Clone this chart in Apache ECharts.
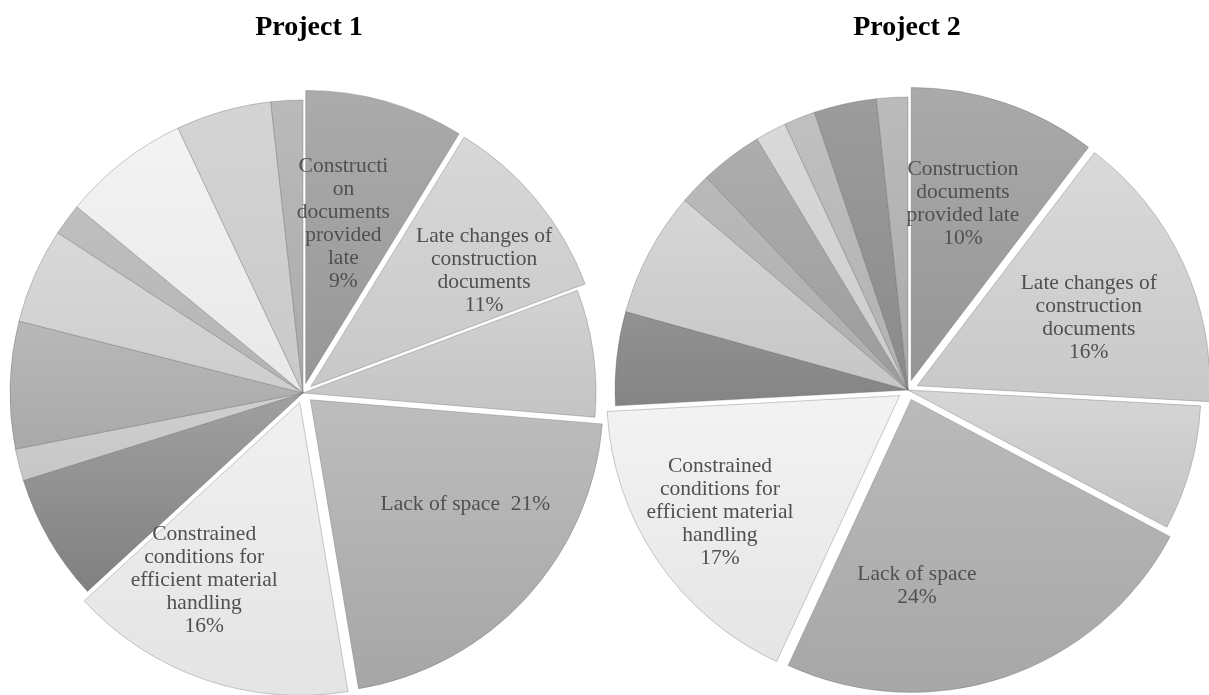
<!DOCTYPE html>
<html>
<head>
<meta charset="utf-8">
<script src="https://cdn.jsdelivr.net/npm/echarts@6/dist/echarts.min.js"></script>
<style>
  html, body { margin: 0; padding: 0; background: #ffffff; }
  #chart { width: 1209px; height: 695px; }
</style>
</head>
<body>
<div id="chart"></div>
<script>
// Causes of delay, counted per project (clockwise from 12 o'clock)
const causes1 = [
  'Constructi\non\ndocuments\nprovided\nlate',
  'Late changes of\nconstruction\ndocuments',
  'Cause 3', 'Lack of space ',
  'Constrained\nconditions for\nefficient material\nhandling',
  'Cause 6', 'Cause 7', 'Cause 8', 'Cause 9', 'Cause 10', 'Cause 11', 'Cause 12', 'Cause 13'
];
const counts1 = [5, 6, 4, 12, 9, 4, 1, 4, 3, 1, 4, 3, 1];

const causes2 = [
  'Construction\ndocuments\nprovided late',
  'Late changes of\nconstruction\ndocuments',
  'Cause 3', 'Lack of space',
  'Constrained\nconditions for\nefficient material\nhandling',
  'Cause 6', 'Cause 7', 'Cause 8', 'Cause 9', 'Cause 10', 'Cause 11', 'Cause 12', 'Cause 13'
];
const counts2 = [6, 9, 4, 14, 10, 3, 4, 1, 2, 1, 1, 2, 1];

const titles = ['Project 1', 'Project 2'];

// Slices that carry a label and are pulled out of the pie
const labelled = [0, 1, 3, 4];

// Separator between name and percentage (single line for "Lack of space" in project 1)
const separators1 = ['\n', '\n', '\n', ' ', '\n'];
const separators2 = ['\n', '\n', '\n', '\n', '\n'];

// Grey fills, top -> bottom of each slice
const shades1 = [
  ['#ababab', '#979797'], ['#d8d8d8', '#c8c8c8'], ['#d2d2d2', '#c4c4c4'], ['#bdbdbd', '#a6a6a6'],
  ['#f0f0f0', '#e4e4e4'], ['#a0a0a0', '#808080'], ['#cfcfcf', '#c7c7c7'], ['#b8b8b8', '#a9a9a9'],
  ['#d9d9d9', '#cdcdcd'], ['#bfbfbf', '#b4b4b4'], ['#f3f3f3', '#e8e8e8'], ['#d4d4d4', '#c9c9c9'],
  ['#bababa', '#aaaaaa']
];
const shades2 = [
  ['#aaaaaa', '#959595'], ['#dadada', '#c8c8c8'], ['#d6d6d6', '#c3c3c3'], ['#bababa', '#a7a7a7'],
  ['#f3f3f3', '#e5e5e5'], ['#929292', '#848484'], ['#d6d6d6', '#c6c6c6'], ['#bababa', '#aeaeae'],
  ['#adadad', '#9c9c9c'], ['#d9d9d9', '#cccccc'], ['#c0c0c0', '#b1b1b1'], ['#9c9c9c', '#8a8a8a'],
  ['#bbbbbb', '#aaaaaa']
];

// Nudges of the label block away from the default inside position
const labelShift1 = { 0: [-3, -16], 1: [58, -21], 3: [45, 3], 4: [-47, 37] };
const labelShift2 = { 0: [4, -35], 1: [36, -5], 3: [-42, 45], 4: [-56, 33] };

const pieRadius = 293;
const centres = [[303, 393], [908, 390]];
const titleX = [304, 902];

function grad(pair) {
  return new echarts.graphic.LinearGradient(0, 0, 0, 1, [
    { offset: 0, color: pair[0] }, { offset: 1, color: pair[1] }
  ]);
}

function buildData(names, counts, shades, seps) {
  const total = counts.reduce((a, b) => a + b, 0);
  return counts.map((v, i) => {
    const style = { color: grad(shades[i]), borderColor: 'rgba(95,95,95,0.55)', borderWidth: 0.6 };
    const isLab = labelled.indexOf(i) >= 0;
    const pct = Math.round(v / total * 100) + '%';
    return {
      name: names[i],
      value: v,
      selected: isLab,
      itemStyle: style,
      select: { itemStyle: style },
      label: isLab
        ? { show: true, formatter: names[i] + seps[i] + pct }
        : { show: false }
    };
  });
}

function pieSeries(k, names, counts, shades, seps, shifts) {
  return {
    type: 'pie',
    center: centres[k],
    radius: pieRadius,
    startAngle: 90,
    clockwise: true,
    selectedMode: 'multiple',
    selectedOffset: 10,
    avoidLabelOverlap: false,
    silent: true,
    label: {
      position: 'inside',
      fontFamily: '"Liberation Serif", "Times New Roman", serif',
      fontSize: 21.5,
      lineHeight: 23,
      color: '#505050',
      align: 'center'
    },
    labelLine: { show: false },
    labelLayout: function (p) {
      const s = shifts[p.dataIndex];
      return s ? { dx: s[0], dy: s[1] } : {};
    },
    emphasis: { disabled: true },
    data: buildData(names, counts, shades, seps)
  };
}

const chart = echarts.init(document.getElementById('chart'), null, { renderer: 'canvas' });
chart.setOption({
  animation: false,
  backgroundColor: '#ffffff',
  title: titles.map((t, k) => ({
    text: t,
    left: titleX[k],
    top: 9,
    textAlign: 'center',
    textStyle: {
      fontFamily: '"Liberation Serif", "Times New Roman", serif',
      fontWeight: 'bold',
      fontSize: 28,
      color: '#000000'
    }
  })),
  series: [
    pieSeries(0, causes1, counts1, shades1, separators1, labelShift1),
    pieSeries(1, causes2, counts2, shades2, separators2, labelShift2)
  ]
});
</script>
</body>
</html>
